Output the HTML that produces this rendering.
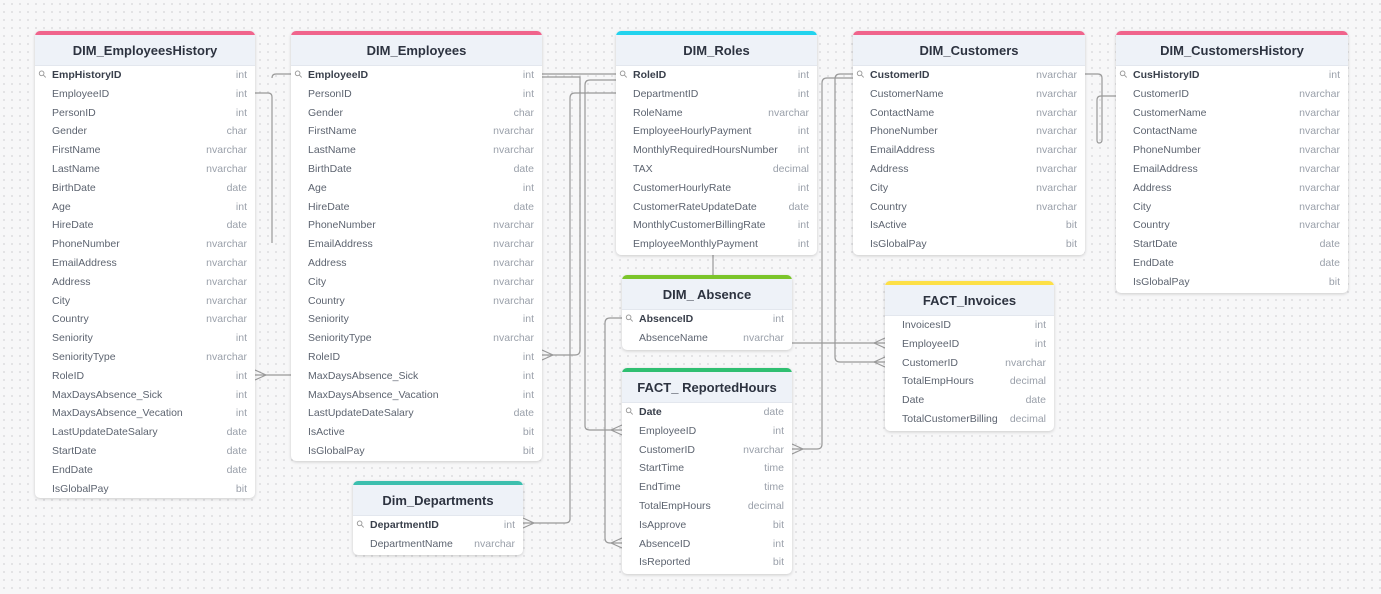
<!DOCTYPE html>
<html><head><meta charset="utf-8">
<style>
body{margin:0;width:1381px;height:594px;overflow:hidden;background:#f7f7f8;background-image:radial-gradient(#dcdcdf 0.8px,transparent 0.9px);background-size:8px 8px;font-family:"Liberation Sans",sans-serif;position:relative}
.t{position:absolute;background:#fff;border-radius:5px;box-shadow:0 1px 3px rgba(0,0,0,.18);overflow:hidden}
.h{background:#eef2f8;height:30px;border-top:4px solid;text-align:center;font-weight:bold;font-size:13px;line-height:31px;color:#2d3340;border-bottom:1px solid #e3e7ee}
.r{height:18.8px;line-height:18.8px;font-size:10.5px;color:#5d6470;display:flex;justify-content:space-between;padding:0 8px 0 17px}
.r span:last-child{color:#9aa0aa}
.k{font-weight:bold;color:#3a404c;position:relative}
.k:before{content:"⚲";position:absolute;left:-12px;color:#999;font-weight:normal;font-size:10px;transform:rotate(-45deg)}
svg{position:absolute;left:0;top:0}
</style></head><body>
<svg width="1381" height="594" fill="none" stroke="#999" stroke-width="1.2">
<path d="M255 93 H268 Q272 93 272 97 V243"/>
<path d="M291 74 H276 Q272 74 272 78"/>
<path d="M255 375 H291"/><path d="M266 375 L255 370 M266 375 L255 380"/>
<path d="M542 74 H616"/><path d="M542 77 H580 V350 Q580 355 575 355 H542"/><path d="M553 355 L542 350 M553 355 L542 360"/>
<path d="M616 80 H590 Q585 80 585 85 V426 Q585 430 590 430 H622"/><path d="M611 430 L622 425 M611 430 L622 435"/>
<path d="M616 93 H575 Q570 93 570 98 V519 Q570 523 565 523 H523"/><path d="M534 523 L523 518 M534 523 L523 528"/>
<path d="M622 318 H610 Q605 318 605 323 V538 Q605 543 610 543 H622"/><path d="M611 543 L622 538 M611 543 L622 548"/>
<path d="M713 255 V275"/>
<path d="M792 343 H885"/><path d="M874 343 L885 338 M874 343 L885 348"/>
<path d="M853 74 H840 Q835 74 835 79 V357 Q835 362 840 362 H885"/><path d="M874 362 L885 357 M874 362 L885 367"/>
<path d="M853 78 H827 Q822 78 822 83 V444 Q822 449 817 449 H792"/><path d="M803 449 L792 444 M803 449 L792 454"/>
<path d="M1085 74 H1098 Q1102 74 1102 78 V140 Q1102 143 1099 143 Q1097 143 1097 140 V100 Q1097 96 1101 96 H1116"/>
</svg>

<div class="t" style="left:35px;top:31px;width:220px;height:467px"><div class="h" style="border-top-color:#f0648c">DIM_EmployeesHistory</div>
<div class="r"><span class="k">EmpHistoryID</span><span>int</span></div>
<div class="r"><span>EmployeeID</span><span>int</span></div>
<div class="r"><span>PersonID</span><span>int</span></div>
<div class="r"><span>Gender</span><span>char</span></div>
<div class="r"><span>FirstName</span><span>nvarchar</span></div>
<div class="r"><span>LastName</span><span>nvarchar</span></div>
<div class="r"><span>BirthDate</span><span>date</span></div>
<div class="r"><span>Age</span><span>int</span></div>
<div class="r"><span>HireDate</span><span>date</span></div>
<div class="r"><span>PhoneNumber</span><span>nvarchar</span></div>
<div class="r"><span>EmailAddress</span><span>nvarchar</span></div>
<div class="r"><span>Address</span><span>nvarchar</span></div>
<div class="r"><span>City</span><span>nvarchar</span></div>
<div class="r"><span>Country</span><span>nvarchar</span></div>
<div class="r"><span>Seniority</span><span>int</span></div>
<div class="r"><span>SeniorityType</span><span>nvarchar</span></div>
<div class="r"><span>RoleID</span><span>int</span></div>
<div class="r"><span>MaxDaysAbsence_Sick</span><span>int</span></div>
<div class="r"><span>MaxDaysAbsence_Vecation</span><span>int</span></div>
<div class="r"><span>LastUpdateDateSalary</span><span>date</span></div>
<div class="r"><span>StartDate</span><span>date</span></div>
<div class="r"><span>EndDate</span><span>date</span></div>
<div class="r"><span>IsGlobalPay</span><span>bit</span></div>
</div>

<div class="t" style="left:291px;top:31px;width:251px;height:430px"><div class="h" style="border-top-color:#f0648c">DIM_Employees</div>
<div class="r"><span class="k">EmployeeID</span><span>int</span></div>
<div class="r"><span>PersonID</span><span>int</span></div>
<div class="r"><span>Gender</span><span>char</span></div>
<div class="r"><span>FirstName</span><span>nvarchar</span></div>
<div class="r"><span>LastName</span><span>nvarchar</span></div>
<div class="r"><span>BirthDate</span><span>date</span></div>
<div class="r"><span>Age</span><span>int</span></div>
<div class="r"><span>HireDate</span><span>date</span></div>
<div class="r"><span>PhoneNumber</span><span>nvarchar</span></div>
<div class="r"><span>EmailAddress</span><span>nvarchar</span></div>
<div class="r"><span>Address</span><span>nvarchar</span></div>
<div class="r"><span>City</span><span>nvarchar</span></div>
<div class="r"><span>Country</span><span>nvarchar</span></div>
<div class="r"><span>Seniority</span><span>int</span></div>
<div class="r"><span>SeniorityType</span><span>nvarchar</span></div>
<div class="r"><span>RoleID</span><span>int</span></div>
<div class="r"><span>MaxDaysAbsence_Sick</span><span>int</span></div>
<div class="r"><span>MaxDaysAbsence_Vacation</span><span>int</span></div>
<div class="r"><span>LastUpdateDateSalary</span><span>date</span></div>
<div class="r"><span>IsActive</span><span>bit</span></div>
<div class="r"><span>IsGlobalPay</span><span>bit</span></div>
</div>

<div class="t" style="left:616px;top:31px;width:201px;height:224px"><div class="h" style="border-top-color:#22d3ee">DIM_Roles</div>
<div class="r"><span class="k">RoleID</span><span>int</span></div>
<div class="r"><span>DepartmentID</span><span>int</span></div>
<div class="r"><span>RoleName</span><span>nvarchar</span></div>
<div class="r"><span>EmployeeHourlyPayment</span><span>int</span></div>
<div class="r"><span>MonthlyRequiredHoursNumber</span><span>int</span></div>
<div class="r"><span>TAX</span><span>decimal</span></div>
<div class="r"><span>CustomerHourlyRate</span><span>int</span></div>
<div class="r"><span>CustomerRateUpdateDate</span><span>date</span></div>
<div class="r"><span>MonthlyCustomerBillingRate</span><span>int</span></div>
<div class="r"><span>EmployeeMonthlyPayment</span><span>int</span></div>
</div>

<div class="t" style="left:853px;top:31px;width:232px;height:224px"><div class="h" style="border-top-color:#f0648c">DIM_Customers</div>
<div class="r"><span class="k">CustomerID</span><span>nvarchar</span></div>
<div class="r"><span>CustomerName</span><span>nvarchar</span></div>
<div class="r"><span>ContactName</span><span>nvarchar</span></div>
<div class="r"><span>PhoneNumber</span><span>nvarchar</span></div>
<div class="r"><span>EmailAddress</span><span>nvarchar</span></div>
<div class="r"><span>Address</span><span>nvarchar</span></div>
<div class="r"><span>City</span><span>nvarchar</span></div>
<div class="r"><span>Country</span><span>nvarchar</span></div>
<div class="r"><span>IsActive</span><span>bit</span></div>
<div class="r"><span>IsGlobalPay</span><span>bit</span></div>
</div>

<div class="t" style="left:1116px;top:31px;width:232px;height:262px"><div class="h" style="border-top-color:#f0648c">DIM_CustomersHistory</div>
<div class="r"><span class="k">CusHistoryID</span><span>int</span></div>
<div class="r"><span>CustomerID</span><span>nvarchar</span></div>
<div class="r"><span>CustomerName</span><span>nvarchar</span></div>
<div class="r"><span>ContactName</span><span>nvarchar</span></div>
<div class="r"><span>PhoneNumber</span><span>nvarchar</span></div>
<div class="r"><span>EmailAddress</span><span>nvarchar</span></div>
<div class="r"><span>Address</span><span>nvarchar</span></div>
<div class="r"><span>City</span><span>nvarchar</span></div>
<div class="r"><span>Country</span><span>nvarchar</span></div>
<div class="r"><span>StartDate</span><span>date</span></div>
<div class="r"><span>EndDate</span><span>date</span></div>
<div class="r"><span>IsGlobalPay</span><span>bit</span></div>
</div>

<div class="t" style="left:622px;top:275px;width:170px;height:75px"><div class="h" style="border-top-color:#7cc52a">DIM_ Absence</div>
<div class="r"><span class="k">AbsenceID</span><span>int</span></div>
<div class="r"><span>AbsenceName</span><span>nvarchar</span></div>
</div>

<div class="t" style="left:885px;top:281px;width:169px;height:150px"><div class="h" style="border-top-color:#fde047">FACT_Invoices</div>
<div class="r"><span>InvoicesID</span><span>int</span></div>
<div class="r"><span>EmployeeID</span><span>int</span></div>
<div class="r"><span>CustomerID</span><span>nvarchar</span></div>
<div class="r"><span>TotalEmpHours</span><span>decimal</span></div>
<div class="r"><span>Date</span><span>date</span></div>
<div class="r"><span>TotalCustomerBilling</span><span>decimal</span></div>
</div>

<div class="t" style="left:622px;top:368px;width:170px;height:206px"><div class="h" style="border-top-color:#2fbf71">FACT_ ReportedHours</div>
<div class="r"><span class="k">Date</span><span>date</span></div>
<div class="r"><span>EmployeeID</span><span>int</span></div>
<div class="r"><span>CustomerID</span><span>nvarchar</span></div>
<div class="r"><span>StartTime</span><span>time</span></div>
<div class="r"><span>EndTime</span><span>time</span></div>
<div class="r"><span>TotalEmpHours</span><span>decimal</span></div>
<div class="r"><span>IsApprove</span><span>bit</span></div>
<div class="r"><span>AbsenceID</span><span>int</span></div>
<div class="r"><span>IsReported</span><span>bit</span></div>
</div>

<div class="t" style="left:353px;top:481px;width:170px;height:74px"><div class="h" style="border-top-color:#3cbfae">Dim_Departments</div>
<div class="r"><span class="k">DepartmentID</span><span>int</span></div>
<div class="r"><span>DepartmentName</span><span>nvarchar</span></div>
</div>
</body></html>
